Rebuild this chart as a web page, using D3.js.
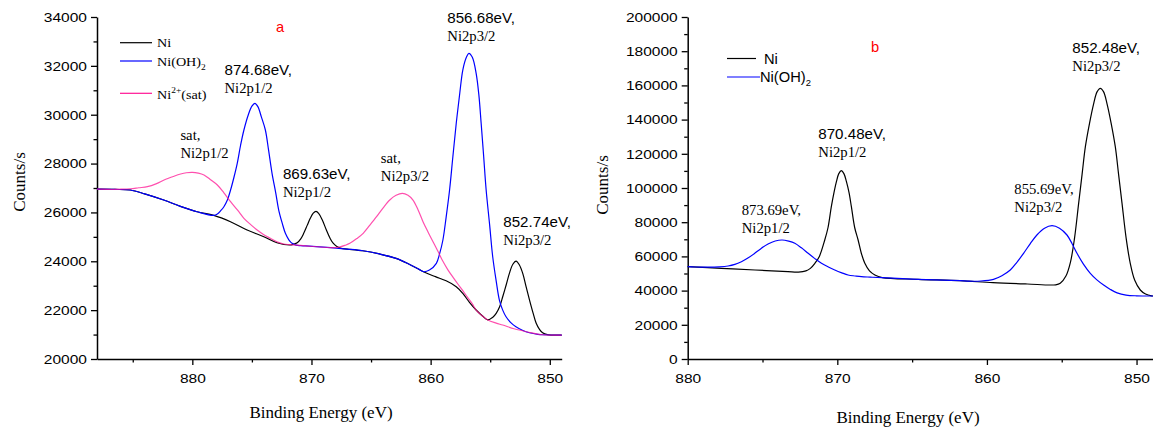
<!DOCTYPE html>
<html>
<head>
<meta charset="utf-8">
<script src="https://cdn.jsdelivr.net/npm/d3@7"></script>
<style>
  body { margin: 0; background: #fff; }
</style>
</head>
<body>
<div id="chart"></div>
<script>
// ---- data: panel a ----
var energyTicksA = [880, 870, 860, 850];
var energyMinorA = [885, 875, 865, 855];
var countTicksA = [20000, 22000, 24000, 26000, 28000, 30000, 32000, 34000];
var countMinorA = [21000, 23000, 25000, 27000, 29000, 31000, 33000];

// shirley background [eV, counts/s]
var backgroundA = [
  [888, 26950], [886.5, 26940], [885.2, 26917], [884, 26760], [882.4, 26508], [881, 26250],
  [879.6, 26029], [878.2, 25880], [876.8, 25620], [875.4, 25280], [874, 25006], [872.9, 24760],
  [871.8, 24666], [870.5, 24630], [868.4, 24560], [867, 24500], [865.7, 24432], [864.3, 24300],
  [862.9, 24121], [861.8, 23880], [860.6, 23573], [859.6, 23370], [858.7, 23200], [857.85, 22960],
  [857.3, 22688], [856.74, 22320], [856.18, 22005], [855.62, 21750], [855.2, 21600], [854.5, 21470],
  [853.95, 21390], [853, 21240], [852.3, 21157], [851.5, 21070], [850.6, 20993], [849, 20981]
];
// Ni metal peaks
var niPeakA1 = [
  [871.8, 24666], [871.5, 24700], [871.2, 24760], [870.9, 24920], [870.65, 25145], [870.35, 25480],
  [870.1, 25759], [869.85, 25970], [869.62, 26040], [869.4, 25960], [869.1, 25700], [868.75, 25280],
  [868.45, 24950], [868.2, 24750], [867.9, 24620], [867.5, 24530]
];
var niPeakA2 = [
  [855.2, 21600], [854.8, 21700], [854.5, 21870], [854.2, 22150], [853.95, 22550], [853.65, 23050],
  [853.39, 23507], [853.1, 23880], [852.83, 24010], [852.55, 23850], [852.27, 23507], [852.0, 22980],
  [851.7, 22414], [851.4, 21880], [851.14, 21460], [850.85, 21200], [850.6, 21075], [850.2, 21000]
];
// Ni(OH)2 peaks
var ohPeakA1 = [
  [878.2, 25880], [877.9, 25935], [877.6, 26080], [877.35, 26234], [877.05, 26520], [876.79, 26917],
  [876.5, 27450], [876.23, 28010], [875.95, 28750], [875.67, 29374], [875.3, 30000], [875.0, 30350],
  [874.75, 30467], [874.5, 30330], [874.2, 29900], [873.87, 29374], [873.6, 28550], [873.31, 27601],
  [873.0, 26800], [872.75, 26099], [872.45, 25550], [872.19, 25145], [871.9, 24880], [871.63, 24735],
  [871.3, 24660], [870.9, 24640]
];
var ohPeakA2 = [
  [861.0, 23680], [860.6, 23573], [860.1, 23640], [859.52, 23917], [859.25, 24300], [858.97, 24871],
  [858.7, 25800], [858.41, 26917], [858.13, 28300], [857.85, 29648], [857.55, 30900], [857.3, 31830],
  [857.0, 32350], [856.79, 32514], [856.5, 32350], [856.18, 31695], [855.95, 30800], [855.76, 29648],
  [855.55, 28300], [855.34, 26917], [855.05, 25500], [854.79, 24187], [854.5, 23200], [854.23, 22414],
  [853.95, 22000], [853.67, 21730], [853.25, 21480], [852.84, 21320], [852.3, 21180], [851.7, 21075],
  [851.0, 21010]
];
// Ni2+ satellites
var satPeakA1 = [
  [886.3, 26946], [885.2, 26970], [884.5, 27010], [883.77, 27053], [883.0, 27180], [882.37, 27327],
  [881.6, 27470], [880.98, 27572], [880.5, 27625], [880.0, 27642], [879.5, 27610], [879.02, 27532],
  [878.5, 27350], [877.9, 27122], [877.35, 26800], [876.79, 26438], [876.2, 26090], [875.67, 25759],
  [875.1, 25500], [874.56, 25280], [874.0, 25090], [873.45, 24940], [872.9, 24800], [872.33, 24707],
  [871.8, 24680]
];
var satPeakA2 = [
  [868.0, 24560], [867.6, 24590], [867.2, 24650], [866.78, 24735], [866.2, 24930], [865.66, 25145],
  [865.1, 25480], [864.54, 25825], [864.0, 26180], [863.43, 26508], [862.9, 26700], [862.37, 26782],
  [861.9, 26700], [861.48, 26508], [861.05, 26100], [860.64, 25620], [860.2, 25180], [859.8, 24800],
  [859.4, 24420], [858.97, 24000], [858.55, 23650], [858.13, 23350], [857.7, 23060], [857.3, 22800],
  [856.9, 22520], [856.5, 22260]
];
var peakTextA = [
  ["874.68eV,", "Ni2p1/2"], ["sat,", "Ni2p1/2"], ["869.63eV,", "Ni2p1/2"],
  ["sat,", "Ni2p3/2"], ["856.68eV,", "Ni2p3/2"], ["852.74eV,", "Ni2p3/2"]
];

// ---- data: panel b ----
var energyTicksB = [880, 870, 860, 850];
var energyMinorB = [875, 865, 855];
var countTicksB = [0, 20000, 40000, 60000, 80000, 100000, 120000, 140000, 160000, 180000, 200000];
var countMinorB = [10000, 30000, 50000, 70000, 90000, 110000, 130000, 150000, 170000, 190000];

var backgroundB = [
  [880, 54000], [877.75, 53040], [875.5, 52050], [873.3, 51050], [872.2, 50600], [871, 49700],
  [869.7, 48710], [867, 47550], [864.6, 46610], [861.8, 45790], [859.6, 44620], [857.3, 43860],
  [855.1, 43280], [854, 42900], [853.3, 42100], [852.4, 39650], [851.3, 37500], [850.3, 37000],
  [848.9, 36840]
];
var niPeakB1 = [
  [872.6, 50830], [872.1, 51500], [871.8, 53000], [871.5, 55965], [871.2, 60000], [870.84, 69591],
  [870.62, 76900], [870.4, 89064], [870.22, 97400], [870.06, 103685], [869.9, 108400], [869.73, 110118],
  [869.56, 108400], [869.39, 103685], [869.22, 97400], [869.06, 89064], [868.84, 76900], [868.61, 69591],
  [868.4, 62000], [868.16, 55965], [867.85, 51500], [867.49, 49123], [867.0, 47600]
];
var niPeakB2 = [
  [855.4, 43400], [855.1, 44270], [854.72, 48500], [854.42, 56500], [854.14, 71000], [853.87, 91050],
  [853.64, 108000], [853.42, 124160], [853.14, 138000], [852.86, 149530], [852.64, 156200], [852.42, 158310],
  [852.2, 156200], [851.98, 149530], [851.7, 138000], [851.42, 124160], [851.2, 108000], [850.97, 91050],
  [850.7, 71000], [850.42, 55965], [850.12, 46000], [849.75, 40350], [849.4, 38000], [849.0, 36900]
];
var ohPeakB1 = [
  [879.5, 53800], [878.6, 53700], [877.9, 53900], [877.3, 54386], [876.85, 55300], [876.41, 56900],
  [875.95, 59200], [875.52, 61813], [875.07, 64800], [874.63, 67252], [874.15, 69000], [873.69, 69591],
  [873.25, 68900], [872.84, 67661], [872.4, 65000], [871.95, 61813], [871.5, 58700], [871.06, 55965],
  [870.6, 53800], [870.17, 52047], [869.7, 50400], [869.28, 49123], [868.8, 48550], [868.39, 48150],
  [867.8, 47880]
];
var ohPeakB2 = [
  [861.2, 45500], [860.4, 45600], [859.56, 46600], [859.0, 48700], [858.44, 52047], [858.0, 56500],
  [857.55, 61813], [857.1, 67500], [856.66, 72515], [856.15, 76500], [855.65, 77960], [855.15, 76500],
  [854.65, 72515], [854.3, 67300], [853.98, 61813], [853.55, 55500], [853.09, 50117], [852.65, 46300],
  [852.2, 43275], [851.75, 40700], [851.3, 38700], [850.7, 37400], [850.0, 36950]
];
var peakTextB = [
  ["870.48eV,", "Ni2p1/2"], ["873.69eV,", "Ni2p1/2"], ["855.69eV,", "Ni2p3/2"], ["852.48eV,", "Ni2p3/2"]
];

// ---- setup ----
var SANS = "'Liberation Sans', Arial, sans-serif";
var SERIF = "'Liberation Serif', 'Times New Roman', serif";
var svgWidth = 1153;
var svgHeight = 429;
var axisY = 359;   // both x axes sit here
var plotTop = 17;

var svg = d3.select("#chart").append("svg")
  .attr("width", svgWidth)
  .attr("height", svgHeight);

// swap the background points under each peak for the peak points
function buildSeries(bg, peaks) {
  var pts = bg.slice();
  peaks.forEach(function(p) {
    var lo = d3.min(p, d => d[0]);
    var hi = d3.max(p, d => d[0]);
    pts = pts.filter(d => d[0] < lo || d[0] > hi).concat(p);
  });
  return pts.sort((a, b) => b[0] - a[0]);
}

// text that is a bit wider than the font (the original is stretched)
function stretchText(x, y, str, font, size, sx, fill) {
  return svg.append("text")
    .attr("transform", `translate(${x},${y}) scale(${sx},1)`)
    .style("font-family", font)
    .style("font-size", size + "px")
    .attr("fill", fill || "#000")
    .text(str);
}

function drawAxes(xScale, yScale, xTicks, xMinor, yTicks, yMinor) {
  var x0 = xScale.range()[0];
  var tickSx = 1.15;
  var gx = svg.append("g")
    .attr("transform", `translate(0, ${axisY})`)
    .call(d3.axisBottom(xScale).tickValues(xTicks).tickSize(6).tickSizeOuter(0)
      .tickPadding(8).tickFormat(d3.format("d")));
  gx.selectAll("text")
    .style("font-family", SANS).style("font-size", "13.5px").attr("fill", "#000")
    .attr("transform", `scale(${tickSx},1)`);
  var gxm = svg.append("g")
    .attr("transform", `translate(0, ${axisY})`)
    .call(d3.axisBottom(xScale).tickValues(xMinor).tickSize(3.5).tickSizeOuter(0).tickFormat(""));
  gxm.select(".domain").remove();

  var gy = svg.append("g")
    .attr("transform", `translate(${x0}, 0)`)
    .call(d3.axisLeft(yScale).tickValues(yTicks).tickSize(6).tickSizeOuter(0)
      .tickPadding(4).tickFormat(d3.format("d")));
  gy.selectAll("text")
    .style("font-family", SANS).style("font-size", "13.5px").attr("fill", "#000")
    .attr("x", -10 / tickSx)
    .attr("transform", `scale(${tickSx},1)`);
  var gym = svg.append("g")
    .attr("transform", `translate(${x0}, 0)`)
    .call(d3.axisLeft(yScale).tickValues(yMinor).tickSize(3.5).tickSizeOuter(0).tickFormat(""));
  gym.select(".domain").remove();

  svg.selectAll(".domain").attr("stroke-width", 1.5);
  svg.selectAll(".tick line").attr("stroke-width", 1.3);
}

function drawCurve(xScale, yScale, pts, color, opacity) {
  var line = d3.line()
    .x(d => xScale(d[0]))
    .y(d => yScale(d[1]))
    .curve(d3.curveCatmullRom.alpha(0.5));
  svg.append("path")
    .datum(pts)
    .attr("fill", "none")
    .attr("stroke", color)
    .attr("stroke-width", 1.2)
    .attr("stroke-opacity", opacity || 1)
    .attr("d", line);
}

function axisTitles(cx, by, lx, ly) {
  svg.append("text")
    .attr("x", cx).attr("y", by)
    .attr("text-anchor", "middle")
    .style("font-family", SERIF).style("font-size", "17px")
    .text("Binding Energy (eV)");
  svg.append("text")
    .attr("transform", `translate(${lx}, ${ly}) rotate(-90)`)
    .attr("text-anchor", "middle")
    .style("font-family", SERIF).style("font-size", "17px")
    .text("Counts/s");
}

// ---- panel a ----
var xA = d3.scaleLinear().domain([888, 849]).range([97, 561.7]);
var yA = d3.scaleLinear().domain([20000, 34000]).range([axisY, plotTop]);
drawAxes(xA, yA, energyTicksA, energyMinorA, countTicksA, countMinorA);

drawCurve(xA, yA, buildSeries(backgroundA, [niPeakA1, niPeakA2]), "#000000");
drawCurve(xA, yA, buildSeries(backgroundA, [ohPeakA1, ohPeakA2]), "#0000ff");
drawCurve(xA, yA, buildSeries(backgroundA, [satPeakA1, satPeakA2]), "#ff1493", 0.75);

// peak labels: anchor in data units, first line font
var spotsA = [[877.3, 31625, SANS], [881.0, 28964, SERIF], [872.4, 27356, SANS],
              [864.18, 28010, SERIF], [858.6, 33734, SANS], [853.9, 25390, SANS]];
peakTextA.forEach(function(t, i) {
  var s = spotsA[i];
  var px = xA(s[0]), py = yA(s[1]);
  stretchText(px, py, t[0], s[2], 14, s[2] == SANS ? 1.08 : 1.05);
  stretchText(px, py + 17.5, t[1], SERIF, 14, 1.05);
});
stretchText(276, 31.5, "a", SANS, 14, 1.05, "#ff0000");

// legend a
var legendA = [["#000000", 42.7], ["#0000ff", 61], ["#ff1493", 93.3]];
legendA.forEach(function(l) {
  svg.append("line").attr("x1", 120).attr("x2", 152).attr("y1", l[1]).attr("y2", l[1])
    .attr("stroke", l[0]).attr("stroke-width", 1.2);
});
stretchText(157, 47, "Ni", SERIF, 13.5, 1.05);
var ohA = stretchText(157, 66, "Ni(OH)", SERIF, 13.5, 1.05);
ohA.append("tspan").attr("dy", 4).style("font-size", "9px").text("2");
var satA = stretchText(157, 98.5, "Ni", SERIF, 13.5, 1.05);
satA.append("tspan").attr("dy", -6).style("font-size", "9px").text("2+");
satA.append("tspan").attr("dy", 6).text("(sat)");

axisTitles(321, 418, 25, 182);

// ---- panel b ----
var xB = d3.scaleLinear().domain([880, 848.9]).range([687.7, 1153]);
var yB = d3.scaleLinear().domain([0, 200000]).range([axisY, plotTop]);
drawAxes(xB, yB, energyTicksB, energyMinorB, countTicksB, countMinorB);

drawCurve(xB, yB, buildSeries(backgroundB, [niPeakB1, niPeakB2]), "#000000");
drawCurve(xB, yB, buildSeries(backgroundB, [ohPeakB1, ohPeakB2]), "#0000ff");

var spotsB = [[871.27, 128480, SANS], [876.39, 84210, SERIF], [858.17, 96490, SERIF], [854.29, 178770, SANS]];
peakTextB.forEach(function(t, i) {
  var s = spotsB[i];
  var px = xB(s[0]), py = yB(s[1]);
  stretchText(px, py, t[0], s[2], 14, s[2] == SANS ? 1.08 : 1.05);
  stretchText(px, py + 17.8, t[1], SERIF, 14, 1.05);
});
stretchText(871, 52, "b", SANS, 14, 1.05, "#ff0000");

// legend b
svg.append("line").attr("x1", 727).attr("x2", 756).attr("y1", 58.5).attr("y2", 58.5)
  .attr("stroke", "#000").attr("stroke-width", 1.2);
svg.append("line").attr("x1", 727).attr("x2", 760).attr("y1", 77).attr("y2", 77)
  .attr("stroke", "#0000ff").attr("stroke-width", 1.2);
stretchText(764, 63.5, "Ni", SANS, 14, 1.05);
var ohB = stretchText(760, 82, "Ni(OH)", SANS, 14, 1.05);
ohB.append("tspan").attr("dy", 4).style("font-size", "9px").text("2");

axisTitles(908, 423, 608, 185);
</script>
</body>
</html>
